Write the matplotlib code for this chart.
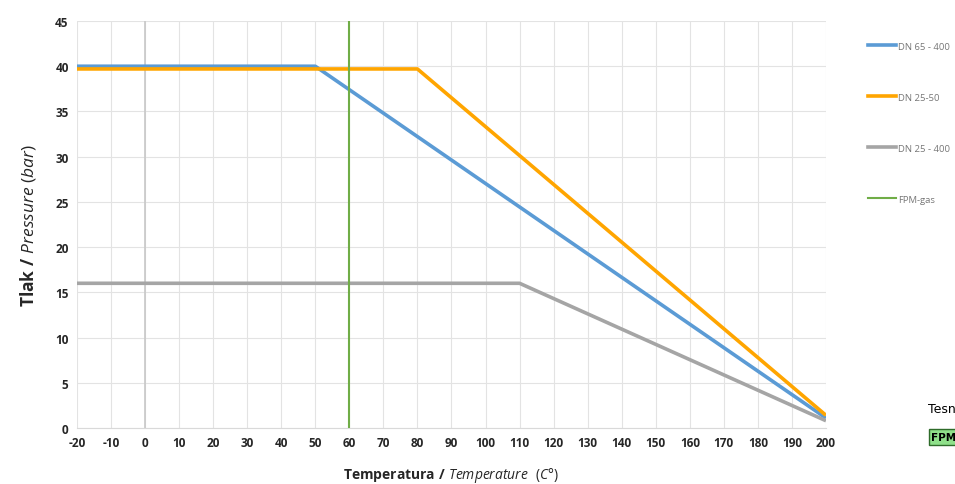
import matplotlib.pyplot as plt
from matplotlib.lines import Line2D

plt.rcParams['font.family'] = ['Open Sans', 'DejaVu Sans']
plt.rcParams['axes.unicode_minus'] = False
plt.rcParams['mathtext.fontset'] = 'custom'
plt.rcParams['mathtext.bf'] = 'Open Sans:bold'
plt.rcParams['mathtext.it'] = 'Open Sans:italic'
plt.rcParams['mathtext.rm'] = 'Open Sans'

# data
dn65_t = [-20, 50, 200]
dn65_p = [40.0, 40.0, 1.1]
dn25_50_t = [-20, 80, 200]
dn25_50_p = [39.7, 39.7, 1.4]
dn25_400_t = [-20, 110, 200]
dn25_400_p = [16.0, 16.0, 0.8]
fpm_t = [60, 60]
fpm_p = [0, 45]

labels = ['DN 65 - 400', 'DN 25-50', 'DN 25 - 400', 'FPM-gas']
colors = ['#5B9BD5', '#FFA500', '#A5A5A5', '#70AD47']

fig = plt.figure(figsize=(9.55, 4.85), dpi=100)
ax = fig.add_axes([0.0806, 0.1155, 0.7843, 0.8391])

ax.plot(dn65_t, dn65_p, color=colors[0], lw=2.6, solid_capstyle='butt', zorder=3)
ax.plot(dn25_50_t, dn25_50_p, color=colors[1], lw=2.6, solid_capstyle='butt', zorder=4)
ax.plot(dn25_400_t, dn25_400_p, color=colors[2], lw=2.6, solid_capstyle='butt', zorder=3)
ax.plot(fpm_t, fpm_p, color=colors[3], lw=1.5, zorder=5)

ax.set_xlim(-20, 200)
ax.set_ylim(0, 45)
ax.set_xticks(range(-20, 201, 10))
ax.set_yticks(range(0, 46, 5))
ax.grid(True, color='#E3E3E3', lw=0.8)
ax.set_axisbelow(True)
ax.axvline(0, color='#C8C8C8', lw=1.2, zorder=1)
for s in ['top', 'right', 'left']:
    ax.spines[s].set_visible(False)
ax.spines['bottom'].set_color('#D9D9D9')
ax.tick_params(length=0, labelsize=8.5, labelcolor='#262626', pad=6)
for lab in ax.get_xticklabels() + ax.get_yticklabels():
    lab.set_fontweight('bold')

ax.set_ylabel(r'$\mathbf{Tlak\ /}\ \mathit{Pressure\ (bar)}$', fontsize=12.5,
              color='#262626', labelpad=12)
ax.set_xlabel(r'$\mathbf{Temperatura\ /}\ \mathit{Temperature\ \ (C°)}$',
              fontsize=10, color='#262626', labelpad=11)

handles = [Line2D([], [], color=c, lw=2.6 if i < 3 else 1.5) for i, c in enumerate(colors)]
leg = fig.legend(handles, labels, loc='upper left', bbox_to_anchor=(0.905, 0.92),
                 frameon=False, fontsize=6.8, labelspacing=4.45, handlelength=3.0,
                 handletextpad=0.15, borderaxespad=0)
for t in leg.get_texts():
    t.set_color('#777777')

# clipped text from neighbouring sheet
fig.text(0.972, 0.155, 'Tesnění', fontsize=9, family='Liberation Sans Narrow',
         color='black', va='center')
fig.text(0.975, 0.097, 'FPM-gas', fontsize=7.5, family='Liberation Sans Narrow',
         fontweight='bold', va='center',
         bbox=dict(boxstyle='square,pad=0.25', fc='#8FE08A', ec='#2E6B2A', lw=1))

fig.savefig('out.png', dpi=100)
